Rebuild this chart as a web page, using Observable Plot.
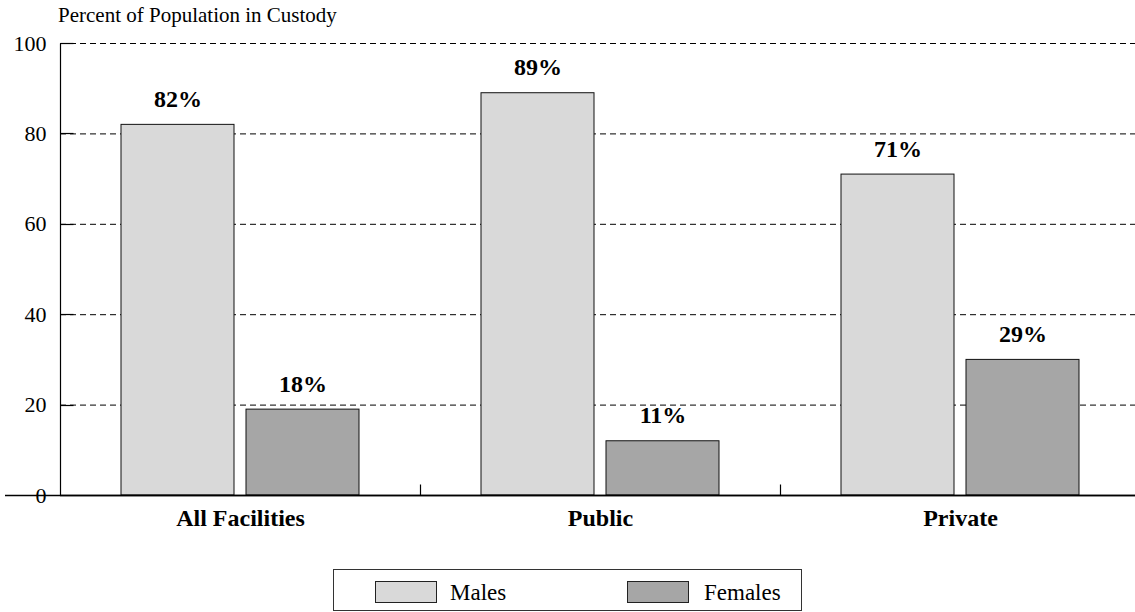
<!DOCTYPE html>
<html>
<head>
<meta charset="utf-8">
<script src="https://cdn.jsdelivr.net/npm/d3@7"></script>
<script src="https://cdn.jsdelivr.net/npm/@observablehq/plot@0.6"></script>
<style>
  html, body { margin: 0; padding: 0; background: #fff; overflow: hidden; }
  body { font-family: "Liberation Serif", "DejaVu Serif", serif; }
  #wrap { position: relative; width: 1141px; height: 612px; }
  #title { position: absolute; left: 58px; top: 5px; font-size: 21px; line-height: 1; color: #000; white-space: nowrap; }
  #legend { position: absolute; left: 333px; top: 569px; width: 469px; height: 42px; border: 1px solid #333; box-sizing: border-box; }
  .sw { position: absolute; top: 11px; width: 62px; height: 22px; border: 1px solid #222; box-sizing: border-box; }
  .lt { position: absolute; top: 11px; font-size: 23px; line-height: 1; white-space: nowrap; }
  svg { max-width: none !important; }
</style>
</head>
<body>
<div id="wrap">
  <div id="chart"></div>
  <div id="title"></div>
  <div id="legend"></div>
</div>
<script>
// ---- data ----
const categories = ["All Facilities", "Public", "Private"];
const sexes = ["Males", "Females"];
const maleValues = [82, 89, 71];
const femaleValues = [19, 12, 30];
const maleLabels = ["82%", "89%", "71%"];
const femaleLabels = ["18%", "11%", "29%"];
const colors = ["#d9d9d9", "#a6a6a6"];
const yTicks = [0, 20, 40, 60, 80, 100];
const titleText = "Percent of Population in Custody";

const data = [];
categories.forEach((c, i) => {
  data.push({category: c, sex: sexes[0], value: maleValues[i], label: maleLabels[i]});
  data.push({category: c, sex: sexes[1], value: femaleValues[i], label: femaleLabels[i]});
});

const font = '"Liberation Serif", "DejaVu Serif", serif';

const plot = Plot.plot({
  width: 1141,
  height: 560,
  marginTop: 43,
  marginBottom: 65,
  marginLeft: 59,
  marginRight: 0,
  style: {fontFamily: font, color: "#000", background: "transparent", overflow: "visible", maxWidth: "none"},
  fx: {domain: categories, padding: 0, label: null, axis: null},
  x: {domain: sexes, paddingInner: 0.096, paddingOuter: 0.488, axis: null},
  y: {domain: [0, 100], axis: null},
  color: {domain: sexes, range: colors},
  marks: [
    Plot.ruleY(yTicks.filter(t => t > 0), {stroke: "#000", strokeWidth: 1, strokeDasharray: "6,4"}),
    Plot.barY(data, {fx: "category", x: "sex", y: "value", fill: "sex", stroke: "#111", strokeWidth: 1}),
    Plot.ruleY([0], {stroke: "#000", strokeWidth: 1.5}),
    Plot.text(data, {fx: "category", x: "sex", y: "value", text: "label", dy: -18, lineAnchor: "bottom",
      fontWeight: "bold", fontSize: 24, fill: "#000"}),
    Plot.axisY({ticks: yTicks, tickSize: 0, tickPadding: 14, fontSize: 22, label: null, tickFormat: d => String(d)}),
    Plot.axisFx({anchor: "bottom", tickSize: 0, tickPadding: 13, fontSize: 24, fontWeight: "bold", label: null})
  ]
});

document.getElementById("chart").appendChild(plot);

// ---- axis ornaments drawn with the plot's own scales ----
const svg = d3.select(plot);
const ys = plot.scale("y");
let fxApply;
const fxs = plot.scale("fx");
if (fxs && fxs.apply) fxApply = v => fxs.apply(v);
else {
  const b = d3.scaleBand().domain(categories).range([59, 1141]).padding(0);
  fxApply = v => b(v);
}
const x0 = Math.round(fxApply(categories[0])) + 0.5;
const yBase = Math.round(ys.apply(0)) + 0.5;
const g = svg.append("g").attr("stroke", "#000").attr("stroke-width", 1.2);
g.append("line").attr("x1", 5).attr("x2", 1141).attr("y1", yBase).attr("y2", yBase).attr("stroke-width", 1.5);
g.append("line").attr("x1", x0).attr("x2", x0).attr("y1", Math.round(ys.apply(100)) + 0.5).attr("y2", yBase);
yTicks.filter(t => t > 0).forEach(t => {
  const yy = Math.round(ys.apply(t)) + 0.5;
  g.append("line").attr("x1", x0).attr("x2", x0 + 13).attr("y1", yy).attr("y2", yy);
});
categories.slice(1).forEach(c => {
  const xx = Math.round(fxApply(c)) + 0.5;
  g.append("line").attr("x1", xx).attr("x2", xx).attr("y1", yBase).attr("y2", yBase - 11);
});

// ---- title & legend ----
document.getElementById("title").textContent = titleText;
const legend = document.getElementById("legend");
const swLeft = [41, 293];
const txtLeft = [116, 370];
sexes.forEach((s, i) => {
  const sw = document.createElement("div");
  sw.className = "sw";
  sw.style.left = swLeft[i] + "px";
  sw.style.background = colors[i];
  legend.appendChild(sw);
  const t = document.createElement("div");
  t.className = "lt";
  t.style.left = txtLeft[i] + "px";
  t.textContent = s;
  legend.appendChild(t);
});
</script>
</body>
</html>
